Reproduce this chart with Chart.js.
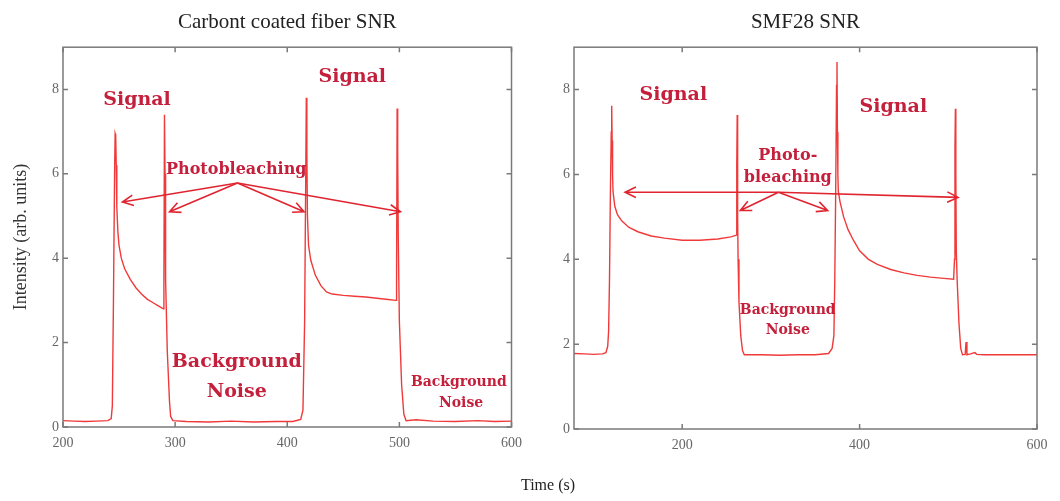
<!DOCTYPE html>
<html>
<head>
<meta charset="utf-8">
<script src="https://cdn.jsdelivr.net/npm/chart.js@4.4.0/dist/chart.umd.min.js"></script>
<style>
  body { margin: 0; background: #fff; }
  .panel { position: absolute; top: 0; width: 530px; height: 501px; }
  #timeLabel { position: absolute; left: 498px; top: 476px; width: 100px; text-align: center;
    font: 16px "Liberation Serif", serif; color: #222; }
</style>
</head>
<body>
<div class="panel" style="left:0"><canvas id="carbon" width="530" height="501"></canvas></div>
<div class="panel" style="left:530px"><canvas id="smf" width="530" height="501"></canvas></div>
<div id="timeLabel">Time (s)</div>
<script>
// carbon coated fiber trace
const timeL = [200, 210, 220, 230, 240, 243, 244, 245, 246, 246.5, 247, 247.5, 248, 249, 250, 252, 255, 260, 265, 270, 275, 280, 285, 289.5,
  290, 290.5, 291, 291.5, 293, 295, 296, 298, 310, 330, 350, 370, 390, 405, 412, 414, 415.5, 416.5, 417, 417.5, 418, 419, 421, 425,
  430, 435, 440, 450, 460, 470, 480, 490, 497, 497.5, 498, 498.5, 499, 500, 502, 504, 506, 515, 530, 550, 570, 585, 600];
const intensityL = [0.15, 0.14, 0.13, 0.14, 0.15, 0.2, 0.5, 3.0, 6.0, 6.95, 6.9, 6.2, 5.2, 4.6, 4.3, 4.0, 3.75, 3.5, 3.3, 3.15, 3.03, 2.95, 2.87, 2.8,
  3.5, 7.4, 6.0, 3.5, 1.8, 0.6, 0.25, 0.15, 0.13, 0.12, 0.14, 0.12, 0.13, 0.13, 0.18, 0.4, 2.5, 6.0, 7.8, 6.5, 5.0, 4.3, 3.95, 3.6,
  3.35, 3.2, 3.15, 3.12, 3.1, 3.08, 3.05, 3.02, 3.0, 3.5, 7.55, 6.5, 4.5, 2.5, 1.0, 0.3, 0.15, 0.17, 0.14, 0.13, 0.15, 0.13, 0.14];

// SMF28 trace
const timeR = [78, 90, 100, 110, 114, 116, 117, 118, 119, 120, 120.5, 121, 121.5, 122, 124, 127, 132, 140, 150, 165, 180, 200, 220, 240, 255, 261,
  261.5, 262, 262.5, 263, 264, 266, 268, 270, 290, 310, 330, 350, 365, 369, 371, 372, 373, 374, 374.5, 375, 375.5, 376, 378, 382, 387, 393,
  400, 410, 420, 435, 450, 465, 480, 495, 506, 507, 507.5, 508, 508.5, 509, 510, 512, 514, 516, 519, 520, 521, 525, 530, 532, 540, 570, 600];
const intensityR = [1.78, 1.77, 1.76, 1.77, 1.8, 1.95, 2.3, 3.5, 5.5, 7.0, 7.62, 6.8, 6.0, 5.6, 5.25, 5.05, 4.9, 4.75, 4.65, 4.55, 4.5, 4.45, 4.45, 4.48, 4.53, 4.57,
  6.2, 7.4, 5.0, 4.0, 3.0, 2.2, 1.85, 1.75, 1.75, 1.74, 1.75, 1.75, 1.78, 1.9, 2.2, 3.5, 5.5, 8.1, 8.65, 7.0, 6.0, 5.6, 5.35, 5.0, 4.7, 4.45,
  4.2, 4.0, 3.88, 3.76, 3.68, 3.62, 3.58, 3.55, 3.53, 4.0, 6.6, 7.55, 6.0, 4.2, 3.5, 2.5, 1.9, 1.75, 1.76, 2.05, 1.75, 1.77, 1.8, 1.76, 1.75, 1.75, 1.75];

const xTicksL = [200, 300, 400, 500, 600];
const xTicksR = [200, 400, 600];
const yTicks = [0, 2, 4, 6, 8];

const serif = '"Liberation Serif", "Times New Roman", serif';
const noteFont = '"DejaVu Serif", serif';
const noteColor = '#c4203c';
const arrowColor = '#e02530';
const frameColor = '#7a7a7a';

// box around the plot with inward tick marks, plus the text / arrow notes
const framePlugin = {
  id: 'notes',
  afterDatasetsDraw(chart, args, opts) {
    const ctx = chart.ctx;
    const a = chart.chartArea;
    const xs = chart.scales.x, ys = chart.scales.y;
    ctx.save();
    ctx.strokeStyle = frameColor;
    ctx.lineWidth = 1.5;
    ctx.strokeRect(a.left, a.top, a.right - a.left, a.bottom - a.top);
    ctx.beginPath();
    xs.ticks.forEach(t => {
      const px = xs.getPixelForValue(t.value);
      ctx.moveTo(px, a.bottom); ctx.lineTo(px, a.bottom - 5);
      ctx.moveTo(px, a.top); ctx.lineTo(px, a.top + 5);
    });
    ys.ticks.forEach(t => {
      const py = ys.getPixelForValue(t.value);
      ctx.moveTo(a.left, py); ctx.lineTo(a.left + 5, py);
      ctx.moveTo(a.right, py); ctx.lineTo(a.right - 5, py);
    });
    ctx.stroke();

    // arrows fan out from one point
    ctx.strokeStyle = arrowColor;
    ctx.lineWidth = 1.6;
    const ax = xs.getPixelForValue(opts.apex[0]), ay = ys.getPixelForValue(opts.apex[1]);
    opts.targets.forEach(p => {
      const tx = xs.getPixelForValue(p[0]), ty = ys.getPixelForValue(p[1]);
      const ang = Math.atan2(ty - ay, tx - ax);
      ctx.beginPath();
      ctx.moveTo(ax, ay);
      ctx.lineTo(tx, ty);
      ctx.moveTo(tx - 12 * Math.cos(ang - 0.45), ty - 12 * Math.sin(ang - 0.45));
      ctx.lineTo(tx, ty);
      ctx.lineTo(tx - 12 * Math.cos(ang + 0.45), ty - 12 * Math.sin(ang + 0.45));
      ctx.stroke();
    });

    ctx.fillStyle = noteColor;
    ctx.textAlign = 'center';
    ctx.textBaseline = 'middle';
    opts.labels.forEach(l => {
      ctx.font = 'bold ' + l.size + 'px ' + noteFont;
      ctx.fillText(l.text, xs.getPixelForValue(l.x), ys.getPixelForValue(l.y));
    });
    ctx.restore();
  }
};

function makeChart(id, title, times, values, xMin, xTicks, yWidth, padRight, xHeight, showYTitle, notes) {
  return new Chart(document.getElementById(id), {
    type: 'line',
    data: {
      datasets: [{
        data: times.map((t, i) => ({ x: t, y: values[i] })),
        borderColor: '#f03a3a',
        borderWidth: 1.4,
        pointRadius: 0,
        tension: 0
      }]
    },
    options: {
      responsive: false,
      animation: false,
      devicePixelRatio: 1,
      layout: { padding: { left: 0, right: padRight, top: 0, bottom: 0 } },
      plugins: {
        legend: { display: false },
        tooltip: { enabled: false },
        title: {
          display: true,
          text: title,
          fullSize: false,
          color: '#222',
          font: { family: serif, size: 21, weight: 'normal' },
          padding: { top: 10, bottom: 12 }
        },
        notes: notes
      },
      scales: {
        x: {
          type: 'linear',
          min: xMin,
          max: 600,
          afterBuildTicks: s => { s.ticks = xTicks.map(v => ({ value: v })); },
          afterFit: s => { s.height = xHeight; },
          grid: { display: false, drawTicks: false },
          border: { display: false },
          ticks: { color: '#666', padding: 8, font: { family: serif, size: 14 } }
        },
        y: {
          min: 0,
          max: 9,
          afterBuildTicks: s => { s.ticks = yTicks.map(v => ({ value: v })); },
          afterFit: s => { s.width = yWidth; },
          grid: { display: false, drawTicks: false },
          border: { display: false },
          ticks: { color: '#666', padding: 4, font: { family: serif, size: 14 } },
          title: {
            display: showYTitle,
            text: 'Intensity (arb. units)',
            color: '#333',
            font: { family: serif, size: 18 },
            padding: { top: 10, bottom: 0 }
          }
        }
      }
    },
    plugins: [framePlugin]
  });
}

makeChart('carbon', 'Carbont coated fiber SNR', timeL, intensityL, 200, xTicksL, 63, 17, 74, true, {
  apex: [355.6, 5.78],
  targets: [[253, 5.33], [295, 5.1], [415, 5.1], [501, 5.1]],
  labels: [
    { text: 'Signal', x: 266, y: 7.75, size: 19 },
    { text: 'Signal', x: 458, y: 8.3, size: 19 },
    { text: 'Photobleaching', x: 354.5, y: 6.1, size: 16 },
    { text: 'Background', x: 355, y: 1.53, size: 19 },
    { text: 'Noise', x: 355, y: 0.83, size: 19 },
    { text: 'Background', x: 553, y: 1.06, size: 14 },
    { text: 'Noise', x: 555, y: 0.57, size: 14 }
  ]
});

makeChart('smf', 'SMF28 SNR', timeR, intensityR, 78, xTicksR, 44, 23, 72, false, {
  apex: [308.5, 5.58],
  targets: [[135.6, 5.58], [511, 5.46], [265.5, 5.15], [364, 5.15]],
  labels: [
    { text: 'Signal', x: 190, y: 7.86, size: 19 },
    { text: 'Signal', x: 438, y: 7.6, size: 19 },
    { text: 'Photo-', x: 319, y: 6.45, size: 16 },
    { text: 'bleaching', x: 319, y: 5.93, size: 16 },
    { text: 'Background', x: 319, y: 2.8, size: 14 },
    { text: 'Noise', x: 319, y: 2.33, size: 14 }
  ]
});
</script>
</body>
</html>
